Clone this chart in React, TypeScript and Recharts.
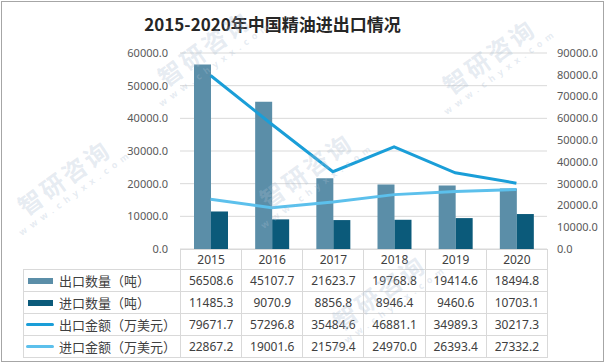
import React from 'react';
import { ComposedChart, Bar, Line, XAxis, YAxis, CartesianGrid } from 'recharts';

const years = ['2015', '2016', '2017', '2018', '2019', '2020'];
const exportQty = [56508.6, 45107.7, 21623.7, 19768.8, 19414.6, 18494.8];
const importQty = [11485.3, 9070.9, 8856.8, 8946.4, 9460.6, 10703.1];
const exportAmt = [79671.7, 57296.8, 35484.6, 46881.1, 34989.3, 30217.3];
const importAmt = [22867.2, 19001.6, 21579.4, 24970.0, 26393.4, 27332.2];
const leftTicks = [0, 10000, 20000, 30000, 40000, 50000, 60000];
const rightTicks = [0, 10000, 20000, 30000, 40000, 50000, 60000, 70000, 80000, 90000];

const seriesNames = ['出口数量（吨）', '进口数量（吨）', '出口金额（万美元）', '进口金额（万美元）'];
const seriesValues = [exportQty, importQty, exportAmt, importAmt];
const seriesColors = ['#5b8ea8', '#0b5a7a', '#1a9ed8', '#5cc0ec'];
const seriesKinds = ['bar', 'bar', 'line', 'line'];

const watermarkText = '智研咨询';
const watermarkUrl = 'www.chyxx.com';

const data = years.map((y, i) => ({
  year: y,
  exportQty: exportQty[i],
  importQty: importQty[i],
  exportAmt: exportAmt[i],
  importAmt: importAmt[i],
}));

const W = 605;
const H = 364;
const plotLeft = 180;
const plotRight = 547;
const plotTop = 53;
const plotBottom = 249;
const colW = (plotRight - plotLeft) / years.length;
const tableLeft = 23;
const rowH = 22;
const grid = '#d9d9d9';
const font = '"Noto Sans", "Noto Sans CJK SC", sans-serif';

const wmSpots = [
  { x: 312, y: 178 },
  { x: 495, y: 64 },
  { x: 70, y: 185 },
  { x: 210, y: 56 },
  { x: 385, y: 300 },
];

function Watermarks() {
  return (
    <svg
      width={W}
      height={H}
      style={{ position: 'absolute', left: 0, top: 0, pointerEvents: 'none' }}
    >
      {wmSpots.map((p, i) => (
        <g key={i} transform={`translate(${p.x},${p.y}) rotate(-36)`} fill="rgba(170,190,210,0.3)">
          <text
            x={0}
            y={0}
            textAnchor="middle"
            fontSize={24}
            fontWeight={700}
            letterSpacing={3}
            fontFamily='"Noto Sans CJK SC", sans-serif'
          >
            {watermarkText}
          </text>
          <text
            x={0}
            y={13}
            textAnchor="middle"
            fontSize={9}
            fontWeight={700}
            letterSpacing={5}
            fontFamily='"Noto Sans", sans-serif'
          >
            {watermarkUrl}
          </text>
        </g>
      ))}
    </svg>
  );
}

export default function App() {
  return (
    <div
      style={{
        position: 'absolute',
        left: 0,
        top: 0,
        width: W,
        height: H,
        background: '#fff',
        fontFamily: font,
        overflow: 'hidden',
      }}
    >
      <div style={{ position: 'absolute', left: 1, top: 1, width: W - 4, height: H - 5, border: '1px solid #a6a6a6' }} />
      <div
        style={{
          position: 'absolute',
          left: 0,
          width: 545,
          top: 11,
          textAlign: 'center',
          fontFamily: '"Noto Sans CJK SC", sans-serif',
          fontWeight: 700,
          fontSize: 17,
          lineHeight: '26px',
          color: '#262626',
        }}
      >
        2015-2020年中国精油进出口情况
      </div>
      <div style={{ position: 'absolute', left: 0, top: 0 }}>
        <ComposedChart
          width={W}
          height={H}
          data={data}
          margin={{ top: plotTop, right: 0, bottom: H - plotBottom, left: 0 }}
          barGap={0}
          barSize={17}
        >
          <CartesianGrid vertical={false} stroke={grid} yAxisId="left" />
          <XAxis dataKey="year" hide />
          <YAxis
            yAxisId="left"
            orientation="left"
            width={plotLeft}
            domain={[0, 60000]}
            ticks={leftTicks}
            interval={0}
            axisLine={false}
            tickLine={false}
            tickSize={0}
            tickMargin={12}
            tickFormatter={(v: number) => v.toFixed(1)}
            tick={{ fill: '#595959', fontSize: 11, fontFamily: font }}
          />
          <YAxis
            yAxisId="right"
            orientation="right"
            width={W - plotRight}
            domain={[0, 90000]}
            ticks={rightTicks}
            interval={0}
            axisLine={false}
            tickLine={false}
            tickSize={0}
            tickMargin={10}
            tickFormatter={(v: number) => v.toFixed(1)}
            tick={{ fill: '#595959', fontSize: 11, fontFamily: font, textAnchor: 'start' }}
          />
          <Bar yAxisId="left" dataKey="exportQty" fill={seriesColors[0]} isAnimationActive={false} />
          <Bar yAxisId="left" dataKey="importQty" fill={seriesColors[1]} isAnimationActive={false} />
          <Line
            yAxisId="right"
            dataKey="exportAmt"
            stroke={seriesColors[2]}
            strokeWidth={3}
            dot={false}
            type="linear"
            isAnimationActive={false}
          />
          <Line
            yAxisId="right"
            dataKey="importAmt"
            stroke={seriesColors[3]}
            strokeWidth={3}
            dot={false}
            type="linear"
            isAnimationActive={false}
          />
        </ComposedChart>
      </div>
      <table
        style={{
          position: 'absolute',
          left: tableLeft,
          top: plotBottom,
          borderCollapse: 'collapse',
          tableLayout: 'fixed',
          width: plotRight - tableLeft,
          fontFamily: font,
          color: '#404040',
        }}
      >
        <colgroup>
          <col style={{ width: plotLeft - tableLeft }} />
          {years.map((y) => (
            <col key={y} style={{ width: colW }} />
          ))}
        </colgroup>
        <tbody>
          <tr style={{ height: 20 }}>
            <td style={{ borderRight: `1px solid ${grid}`, padding: 0 }} />
            {years.map((y) => (
              <td
                key={y}
                style={{
                  border: `1px solid ${grid}`,
                  textAlign: 'center',
                  fontSize: 12,
                  padding: 0,
                  lineHeight: '18px',
                }}
              >
                {y}
              </td>
            ))}
          </tr>
          {seriesNames.map((name, si) => (
            <tr key={name} style={{ height: rowH }}>
              <td style={{ border: `1px solid ${grid}`, padding: 0, fontSize: 13, whiteSpace: 'nowrap' }}>
                <div style={{ display: 'flex', alignItems: 'center' }}>
                  {seriesKinds[si] === 'bar' ? (
                    <span
                      style={{
                        display: 'inline-block',
                        width: 25,
                        height: 6,
                        background: seriesColors[si],
                        marginLeft: 4,
                        marginRight: 6,
                      }}
                    />
                  ) : (
                    <span
                      style={{
                        display: 'inline-block',
                        width: 28,
                        height: 3,
                        borderRadius: 2,
                        background: seriesColors[si],
                        marginLeft: 2,
                        marginRight: 5,
                      }}
                    />
                  )}
                  <span>{name}</span>
                </div>
              </td>
              {seriesValues[si].map((v, i) => (
                <td
                  key={i}
                  style={{ border: `1px solid ${grid}`, textAlign: 'center', fontSize: 12, padding: 0 }}
                >
                  {v.toFixed(1)}
                </td>
              ))}
            </tr>
          ))}
        </tbody>
      </table>
      <Watermarks />
    </div>
  );
}
